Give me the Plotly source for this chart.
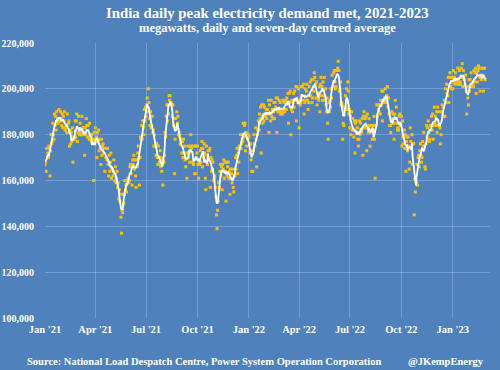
import pandas as pd
import plotly.graph_objects as go

# Daily peak demand met, thousand MW, one list per month
m2021_01 = [167,168,164,174,170,172,170,175,174,162,173,180,176,177,185,180,178,189,184,188,182,190,186,185,186,191,187,186,190,186,184]
m2021_02 = [189,183,188,186,190,182,183,184,181,189,181,185,186,175,182,176,181,177,183,168,179,178,178,186,179,186,189,177]
m2021_03 = [181,188,181,180,185,180,180,188,181,183,180,183,171,183,180,187,184,179,184,179,178,185,178,180,177,180,176,178,160,181,177]
m2021_04 = [183,178,179,170,181,177,182,173,178,174,167,178,171,175,176,172,174,164,174,170,174,169,174,167,162,171,164,168,172,161]
m2021_05 = [165,165,162,169,163,160,166,159,161,164,157,159,152,156,151,154,144,137,147,146,154,150,154,160,156,158,155,160,159,161,159]
m2021_06 = [160,166,167,163,167,158,169,167,171,165,169,162,157,169,166,172,175,170,158,170,179,178,184,178,186,183,180,191,186,192]
m2021_07 = [188,193,196,190,200,194,187,184,190,183,184,188,181,182,175,180,175,176,171,176,170,167,175,167,168,173,166,170,164,169,158]
m2021_08 = [168,168,171,181,179,188,193,186,193,189,197,195,197,193,194,193,188,193,184,187,163,178,187,183,190,185,188,180,181,179,176]
m2021_09 = [176,178,172,177,170,178,170,175,169,166,172,161,172,175,170,172,168,175,180,174,168,175,168,167,175,163,163,175,170,172]
m2021_10 = [175,167,161,168,167,173,168,174,177,166,174,170,176,172,161,156,175,171,167,173,169,173,174,157,170,164,169,165,168,160,161]
m2021_11 = [162,157,153,145,139,147,151,159,157,164,167,162,166,156,167,165,169,161,168,164,151,168,162,166,168,161,164,154,165,161]
m2021_12 = [163,159,165,157,155,162,162,170,165,171,174,163,172,168,175,174,180,174,176,178,177,185,179,184,185,173,181,175,180,178,180]
m2022_01 = [179,176,172,176,169,164,173,164,173,180,176,175,183,178,166,180,182,186,182,189,187,192,172,193,188,185,193,186,192,188,188]
m2022_02 = [191,187,191,189,195,181,193,189,186,195,188,191,187,190,194,187,194,192,196,181,196,190,190,195,190,194,189,191]
m2022_03 = [190,189,195,190,194,190,191,195,191,196,194,198,185,198,194,199,180,191,195,190,194,198,192,199,195,201,186,201,195,194,200]
m2022_04 = [183,195,193,194,201,197,201,195,202,189,194,200,195,199,202,195,191,194,201,197,203,197,204,194,196,204,199,207,205,202]
m2022_05 = [196,203,193,198,196,195,201,190,202,205,197,201,195,203,195,205,197,200,193,190,196,185,178,194,190,195,192,200,196,206,201]
m2022_06 = [201,207,208,203,200,201,208,206,209,212,208,199,200,203,193,194,193,178,185,184,192,191,197,192,200,191,203,199,189,191]
m2022_07 = [183,188,180,190,182,187,182,179,186,172,185,186,181,183,178,175,178,186,180,185,182,181,187,171,188,190,183,187,183,188,173]
m2022_08 = [189,184,181,187,181,175,184,182,184,178,184,182,188,178,161,184,184,193,188,193,191,190,193,189,195,193,199,186,199,195,194]
m2022_09 = [196,200,194,195,197,201,192,196,189,184,184,181,187,190,185,189,185,178,189,195,187,192,185,182,183,182,188,189,184,185]
m2022_10 = [188,175,186,179,176,182,174,180,164,177,179,173,179,175,165,168,183,177,174,180,167,176,176,145,161,155,160,159,167,158,170]
m2022_11 = [171,166,173,176,171,168,170,177,175,181,175,166,165,176,184,179,183,186,181,177,178,184,182,188,182,189,178,184,192,185]
m2022_12 = [188,184,190,181,192,184,190,184,183,176,180,190,193,188,192,188,195,188,200,194,202,198,197,205,194,205,207,201,205,200,205]
m2023_01 = [200,208,203,205,202,207,203,203,202,209,203,202,208,203,202,209,205,211,201,208,204,204,202,206,199,189,201,196,193,204,199]
m2023_02 = [204,201,207,201,201,202,201,208,203,207,209,198,207,203,208,210,209,205,199,206,204,209,206,209,199,205,209,204]

months = [
    ("2021-01", m2021_01), ("2021-02", m2021_02), ("2021-03", m2021_03), ("2021-04", m2021_04),
    ("2021-05", m2021_05), ("2021-06", m2021_06), ("2021-07", m2021_07), ("2021-08", m2021_08),
    ("2021-09", m2021_09), ("2021-10", m2021_10), ("2021-11", m2021_11), ("2021-12", m2021_12),
    ("2022-01", m2022_01), ("2022-02", m2022_02), ("2022-03", m2022_03), ("2022-04", m2022_04),
    ("2022-05", m2022_05), ("2022-06", m2022_06), ("2022-07", m2022_07), ("2022-08", m2022_08),
    ("2022-09", m2022_09), ("2022-10", m2022_10), ("2022-11", m2022_11), ("2022-12", m2022_12),
    ("2023-01", m2023_01), ("2023-02", m2023_02),
]

parts = []
for ym, vals in months:
    idx = pd.date_range(ym + "-01", periods=len(vals), freq="D")
    parts.append(pd.Series([v * 1000 for v in vals], index=idx))
daily = pd.concat(parts)
avg7 = daily.rolling(7, center=True, min_periods=4).mean()

BG = "#4F81BD"
GRID = "rgba(255,255,255,0.22)"
SERIF = "Liberation Serif, Times New Roman, serif"

fig = go.Figure()
fig.add_trace(go.Scatter(
    x=daily.index, y=daily.values, mode="markers",
    marker=dict(symbol="square", size=3, color="#FFC000", line=dict(width=0)),
    hoverinfo="skip", showlegend=False))
fig.add_trace(go.Scatter(
    x=avg7.index, y=avg7.values, mode="lines",
    line=dict(color="white", width=1.8), hoverinfo="skip", showlegend=False))

fig.update_layout(
    width=500, height=370,
    paper_bgcolor=BG, plot_bgcolor=BG,
    margin=dict(l=45, r=10, t=43, b=52),
    font=dict(family=SERIF, color="white"),
    showlegend=False,
)
fig.update_xaxes(
    range=["2021-01-01", "2023-03-08 16:00"],
    tickvals=pd.date_range("2021-01-01", "2023-01-01", freq="3MS"),
    tickformat="%b '%y",
    showgrid=True, gridcolor=GRID, gridwidth=1,
    zeroline=False, showline=False, ticks="",
    tickfont=dict(family=SERIF, size=10.5, color="white", weight="bold"),
    ticklabelstandoff=3, automargin=False,
)
fig.update_yaxes(
    range=[100000, 220000], dtick=20000, tickformat=",",
    showgrid=True, gridcolor=GRID, gridwidth=1,
    zeroline=False, showline=False, ticks="",
    tickfont=dict(family=SERIF, size=10, color="white", weight="bold"),
    ticklabelstandoff=10, automargin=False,
)

fig.add_annotation(text="<b>India daily peak electricity demand met, 2021-2023</b>",
                   xref="paper", yref="paper", x=0.5, xanchor="center",
                   y=1.0, yshift=30, yanchor="middle", showarrow=False,
                   font=dict(family=SERIF, size=14.8, color="white"))
fig.add_annotation(text="<b>megawatts, daily and seven-day centred average</b>",
                   xref="paper", yref="paper", x=0.5, xanchor="center",
                   y=1.0, yshift=15, yanchor="middle", showarrow=False,
                   font=dict(family=SERIF, size=12.5, color="white"))
fig.add_annotation(text="<b>Source: National Load Despatch Centre, Power System Operation Corporation</b>",
                   xref="paper", yref="paper", x=-0.045, xanchor="left",
                   y=0, yshift=-43, yanchor="middle", showarrow=False,
                   font=dict(family=SERIF, size=10.5, color="white"))
fig.add_annotation(text="<b>@JKempEnergy</b>",
                   xref="paper", yref="paper", x=0.99, xanchor="right",
                   y=0, yshift=-43, yanchor="middle", showarrow=False,
                   font=dict(family=SERIF, size=10.5, color="white"))

fig.write_html("out.html", config={"displayModeBar": False},
               post_script="document.body.style.margin='0';document.body.style.overflow='hidden';")
